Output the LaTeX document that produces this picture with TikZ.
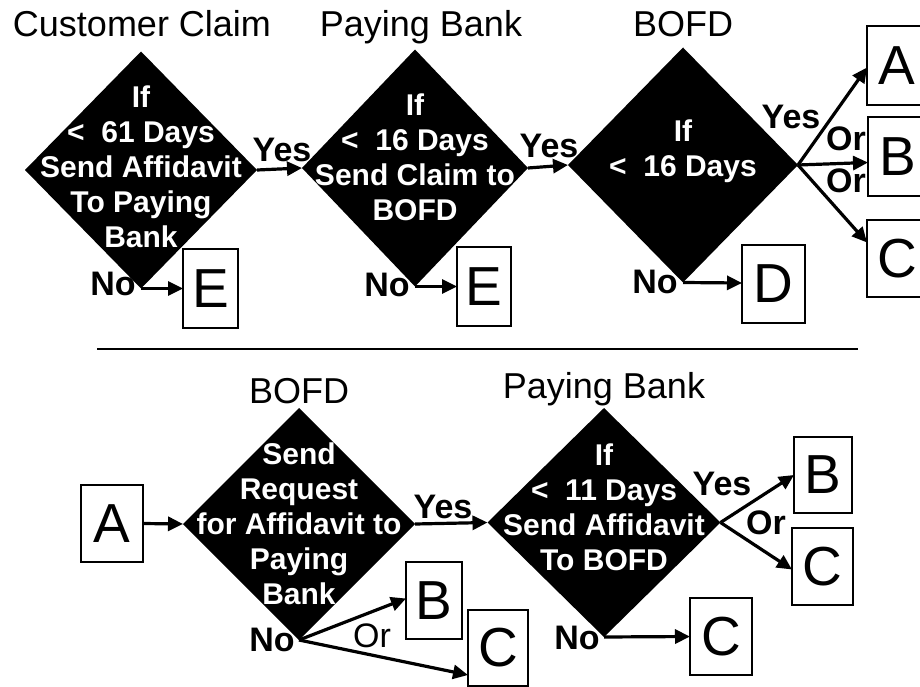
\documentclass[tikz,border=0pt]{standalone}
\usepackage{fontspec}
\setmainfont{Liberation Sans}
\usetikzlibrary{shapes.geometric,arrows.meta}
\begin{document}
\begin{tikzpicture}[x=1pt,y=-1pt,
  dia/.style={diamond, fill=black, inner sep=0, outer sep=0},
  dtext/.style={text=white, align=center, font=\fontsize{30}{35}\selectfont\bfseries, inner sep=0},
  box/.style={draw, line width=1.3pt, inner sep=0, outer sep=0, font=\fontsize{55}{55}\selectfont},
  title/.style={font=\fontsize{36}{40}\selectfont, anchor=base, inner sep=0},
  lab/.style={font=\fontsize{34}{38}\selectfont\bfseries, inner sep=0},
  labr/.style={font=\fontsize{34}{38}\selectfont, inner sep=0},
  arr/.style={line width=3.2pt, -{Triangle[length=15pt,width=14pt]}}
]
\useasboundingbox (0,0) rectangle (920,687);
\fill[white] (0,0) rectangle (920,687);

% ---------- top row ----------
\node[title] (t1) at (142,37) {Customer Claim};
\node[title] (t2) at (421,37) {Paying Bank};
\node[title] (t3) at (683,37) {BOFD};

\node[dia, minimum width=232pt, minimum height=237pt] (d1) at (141,170) {};
\node[dtext] (d1t) at (141,167) {If\\<\ \ 61 Days\\Send Affidavit\\To Paying\\Bank};
\node[dia, minimum width=226pt, minimum height=237pt] (d2) at (415,168) {};
\node[dtext] (d2t) at (415,157) {If\\<\ \ 16 Days\\Send Claim to\\BOFD};
\node[dia, minimum width=230pt, minimum height=235pt] (d3) at (683,165) {};
\node[dtext] (d3t) at (683,151) {If\\<\ \ 16 Days};

\node[box, minimum width=55pt, minimum height=79pt] (e1) at (210.5,288.5) {E};
\node[box, minimum width=54pt, minimum height=79pt] (e2) at (484,286.5) {E};
\node[box, minimum width=63pt, minimum height=78pt] (dd) at (773.5,284) {D};
\node[box, minimum width=60pt, minimum height=79pt] (at) at (897,65.5) {A};
\node[box, minimum width=60pt, minimum height=79pt] (bt) at (898,156.5) {B};
\node[box, minimum width=60pt, minimum height=77pt] (ct) at (897,258.5) {C};

\draw[arr] (d1.east) -- (d2.west);
\draw[arr] (d2.east) -- (d3.west);
\draw[arr] (d1.south) -- (e1.west);
\draw[arr] (d2.south) -- (e2.west);
\draw[arr] (d3.south) -- ([yshift=1pt]dd.west);
\draw[arr] (d3.east) -- ([yshift=-2pt]at.west);
\draw[arr] (d3.east) -- ([yshift=-6pt]bt.west);
\draw[arr] (d3.east) -- ([yshift=16pt]ct.west);

\node[lab] (y1) at (282,150) {Yes};
\node[lab] (n1) at (113,284) {No};
\node[lab] (y2) at (549,146) {Yes};
\node[lab] (n2) at (387,285) {No};
\node[lab] (y3) at (791,117) {Yes};
\node[lab] (o1) at (846,139) {Or};
\node[lab] (o2) at (846,181) {Or};
\node[lab] (n3) at (655,282) {No};

% ---------- divider ----------
\coordinate (dl) at (97,349);
\coordinate (dr) at (858,349);
\draw[line width=1.8pt] (dl) -- (dr);

% ---------- bottom row ----------
\node[title] (t4) at (299,403) {BOFD};
\node[title] (t5) at (604,398) {Paying Bank};

\node[box, minimum width=62pt, minimum height=77pt] (ab) at (112,523.5) {A};
\node[dia, minimum width=232pt, minimum height=232pt] (d4) at (299,524) {};
\node[dtext] (d4t) at (299,524) {Send\\Request\\for Affidavit to\\Paying\\Bank};
\node[dia, minimum width=233pt, minimum height=229pt] (d5) at (604,522.5) {};
\node[dtext] (d5t) at (604,507) {If\\<\ \ 11 Days\\Send Affidavit\\To BOFD};

\node[box, minimum width=56pt, minimum height=77pt] (b4) at (434,600.5) {B};
\node[box, minimum width=60pt, minimum height=76pt] (c4) at (498,648) {C};
\node[box, minimum width=58pt, minimum height=76pt] (b5) at (823,475) {B};
\node[box, minimum width=61pt, minimum height=77pt] (c5) at (822.5,566.5) {C};
\node[box, minimum width=62pt, minimum height=77pt] (c6) at (721,636.5) {C};

\draw[arr] (ab.east) -- (d4.west);
\draw[arr] (d4.east) -- (d5.west);
\draw[arr] (d4.south) -- ([yshift=2pt]b4.west);
\draw[arr] (d4.south) -- ([yshift=-27pt]c4.west);
\draw[arr] (d5.east) -- (b5.west);
\draw[arr] (d5.east) -- ([yshift=-3pt]c5.west);
\draw[arr] (d5.south) -- (c6.west);

\node[lab] (y4) at (443,507) {Yes};
\node[lab] (n4) at (272,640) {No};
\node[labr] (o4) at (372,636) {Or};
\node[lab] (y5) at (722,484) {Yes};
\node[lab] (o5) at (766,523) {Or};
\node[lab] (n5) at (577,638) {No};
\end{tikzpicture}
\end{document}
